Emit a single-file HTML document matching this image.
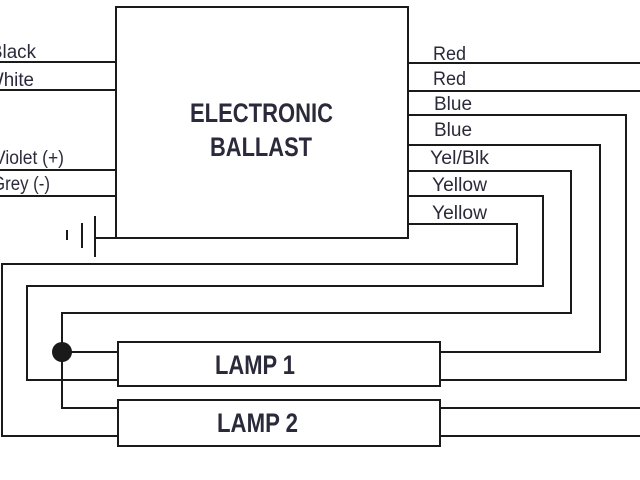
<!DOCTYPE html>
<html><head><meta charset="utf-8"><style>
html,body{margin:0;padding:0;background:#fff;}
svg{display:block;}
text{font-family:"Liberation Sans",sans-serif;fill:#2a2a3a;}
</style></head><body>
<svg width="640" height="480" viewBox="0 0 640 480" xmlns="http://www.w3.org/2000/svg">
<g fill="none" stroke="#1a1a1a" stroke-width="2">
<rect x="116" y="7" width="292" height="231"/>
<line x1="0" y1="62" x2="116" y2="62"/>
<line x1="0" y1="90" x2="116" y2="90"/>
<line x1="0" y1="170" x2="116" y2="170"/>
<line x1="0" y1="196" x2="116" y2="196"/>
<line x1="95" y1="238" x2="116" y2="238"/>
<line x1="95" y1="216" x2="95" y2="257"/>
<line x1="82" y1="223" x2="82" y2="248"/>
<line x1="67" y1="230" x2="67" y2="240"/>
<line x1="408" y1="63" x2="640" y2="63"/>
<line x1="408" y1="91" x2="640" y2="91"/>
<polyline points="408,115 626,115 626,380 440,380"/>
<polyline points="408,145 600,145 600,352 440,352"/>
<polyline points="408,171 571,171 571,313 62,313 62,408 118,408"/>
<polyline points="408,196 543,196 543,286 27,286 27,380 118,380"/>
<polyline points="408,224 517,224 517,264 2,264 2,436 118,436"/>
<line x1="62" y1="352" x2="118" y2="352"/>
<rect x="118" y="342" width="322" height="44"/>
<rect x="118" y="400" width="322" height="46"/>
<line x1="440" y1="408" x2="640" y2="408"/>
<line x1="440" y1="436" x2="640" y2="436"/>
</g>
<circle cx="62" cy="352" r="10" fill="#1a1a1a"/>
<g font-size="19" lengthAdjust="spacingAndGlyphs">
<text x="-10" y="58" textLength="46" lengthAdjust="spacingAndGlyphs">Black</text>
<text x="-14" y="86" textLength="48" lengthAdjust="spacingAndGlyphs">White</text>
<text x="-6" y="164" textLength="70" lengthAdjust="spacingAndGlyphs">Violet (+)</text>
<text x="-8" y="190" textLength="58" lengthAdjust="spacingAndGlyphs">Grey (-)</text>
<text x="433" y="60" textLength="33" lengthAdjust="spacingAndGlyphs">Red</text>
<text x="433" y="85" textLength="33" lengthAdjust="spacingAndGlyphs">Red</text>
<text x="434" y="110" textLength="38" lengthAdjust="spacingAndGlyphs">Blue</text>
<text x="434" y="136" textLength="38" lengthAdjust="spacingAndGlyphs">Blue</text>
<text x="430" y="164" textLength="59" lengthAdjust="spacingAndGlyphs">Yel/Blk</text>
<text x="432" y="191" textLength="55" lengthAdjust="spacingAndGlyphs">Yellow</text>
<text x="432" y="219" textLength="55" lengthAdjust="spacingAndGlyphs">Yellow</text>
</g>
<g font-size="27" font-weight="bold">
<text x="190" y="122" textLength="143" lengthAdjust="spacingAndGlyphs">ELECTRONIC</text>
<text x="210" y="156" textLength="102" lengthAdjust="spacingAndGlyphs">BALLAST</text>
<text x="215" y="374" textLength="80" lengthAdjust="spacingAndGlyphs">LAMP 1</text>
<text x="217" y="432" textLength="81" lengthAdjust="spacingAndGlyphs">LAMP 2</text>
</g>
</svg>
</body></html>
